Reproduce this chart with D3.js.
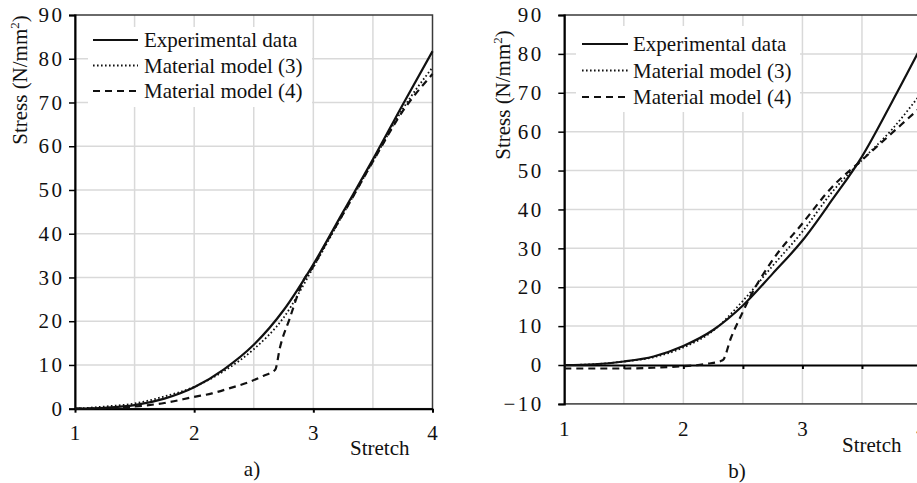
<!DOCTYPE html>
<html>
<head>
<meta charset="utf-8">
<script src="https://cdn.jsdelivr.net/npm/d3@7"></script>
<style>
  html, body { margin: 0; padding: 0; background: #fff; overflow: hidden; }
  svg { display: block; }
  svg text { font-family: "Liberation Serif", "Tinos", "DejaVu Serif", serif !important; }
</style>
</head>
<body>
<svg id="chart" width="917" height="483"></svg>
<script>
// ---------- Data ----------
// Panel a)
const stretchA  = [1, 1.25, 1.5, 1.75, 2, 2.25, 2.5, 2.75, 3, 3.25, 3.5, 3.75, 4];
const expA      = [0, 0.2, 0.8, 2.3, 4.9, 9.0, 14.6, 22.5, 33, 45, 57, 69.5, 81.7];
const model3A   = [0, 0.5, 1.2, 2.8, 5.0, 8.6, 13.6, 20.8, 32.3, 44.5, 56.5, 68.5, 78];
const stretch4A = [1, 1.25, 1.5, 1.75, 2, 2.15, 2.3, 2.45, 2.58, 2.68, 2.72, 2.8, 2.92, 3, 3.1, 3.25, 3.5, 3.75, 4];
const model4A   = [0, 0.1, 0.5, 1.3, 2.7, 3.5, 4.7, 6.0, 7.5, 8.9, 14, 20.5, 29.5, 32.5, 37.5, 44.5, 56.5, 68, 76.5];

// Panel b)
const stretchB  = [1, 1.25, 1.5, 1.75, 2, 2.25, 2.5, 2.75, 3, 3.25, 3.5, 3.75, 4];
const expB      = [0, 0.2, 0.9, 2.2, 4.9, 9.0, 15.3, 23.5, 32, 42.5, 53.6, 67.5, 82];
const model3B   = [0, 0.2, 0.9, 2.0, 4.5, 8.8, 16.5, 25.5, 34.3, 44.5, 52.7, 60.5, 70];
const stretch4B = [1, 1.5, 1.75, 2, 2.2, 2.33, 2.4, 2.48, 2.56, 2.75, 3, 3.25, 3.5, 3.75, 4];
const model4B   = [-0.9, -0.9, -0.7, -0.3, 0.3, 1.2, 7, 12.4, 17.5, 27, 36.4, 45.8, 52.7, 59.6, 66.5];

const xTicks    = [1, 2, 3, 4];
const xGrid     = [1.5, 2, 2.5, 3, 3.5];
const yTicksA   = [0, 10, 20, 30, 40, 50, 60, 70, 80, 90];
const yTicksB   = [-10, 0, 10, 20, 30, 40, 50, 60, 70, 80, 90];
const legendLabels = ["Experimental data", "Material model (3)", "Material model (4)"];
const panelLabels  = ["a)", "b)"];
const xTitle = "Stretch";

// ---------- Drawing ----------
const FONT = "Liberation Serif, Tinos, DejaVu Serif, serif";
const svg = d3.select("#chart");

function drawPanel(cfg) {
  const g = svg.append("g").attr("font-family", FONT);
  const x = d3.scaleLinear().domain([1, 4]).range([cfg.left, cfg.right]);
  const y = d3.scaleLinear().domain(cfg.yDomain).range([cfg.bottom, cfg.top]);

  // gridlines
  g.append("g").selectAll("line").data(xGrid).join("line")
    .attr("x1", d => x(d)).attr("x2", d => x(d))
    .attr("y1", cfg.top).attr("y2", cfg.bottom)
    .attr("stroke", "#d9d9d9").attr("stroke-width", 1.5);
  g.append("g").selectAll("line").data(cfg.yTicks.filter(d => d !== cfg.yDomain[0] && d !== cfg.yDomain[1] && d !== 0)).join("line")
    .attr("x1", cfg.left).attr("x2", cfg.right)
    .attr("y1", d => y(d)).attr("y2", d => y(d))
    .attr("stroke", "#d9d9d9").attr("stroke-width", 1.5);

  // plot border
  g.append("rect")
    .attr("x", cfg.left).attr("y", cfg.top)
    .attr("width", cfg.right - cfg.left).attr("height", cfg.bottom - cfg.top)
    .attr("fill", "none").attr("stroke", "#3a3a3a").attr("stroke-width", 1.5);

  // legend background
  g.append("rect")
    .attr("x", cfg.legend.bx).attr("y", cfg.legend.by)
    .attr("width", cfg.legend.bw).attr("height", cfg.legend.bh)
    .attr("fill", "#fff");

  // y axis
  const yAxis = d3.axisLeft(y).tickValues(cfg.yTicks).tickSize(6).tickPadding(cfg.yPad).tickFormat(d3.format("d"));
  const ya = g.append("g").attr("transform", `translate(${cfg.left},0)`).call(yAxis)
    .attr("font-family", FONT).attr("font-size", 21);
  ya.select(".domain").attr("stroke", "#000").attr("stroke-width", 2);
  ya.selectAll(".tick line").attr("stroke", "#000").attr("stroke-width", 1.5);
  ya.selectAll(".tick text").attr("fill", "#111").attr("letter-spacing", 2.5);

  // x axis (at y = 0)
  const xAxis = d3.axisBottom(x).tickValues(cfg.xTickMarks).tickSize(4).tickSizeOuter(0).tickFormat("");
  const xa = g.append("g").attr("transform", `translate(0,${y(0)})`).call(xAxis);
  xa.select(".domain").attr("stroke", "#000").attr("stroke-width", 2);
  xa.selectAll(".tick line").attr("stroke", "#000").attr("stroke-width", 2);

  // x tick labels
  g.append("g").selectAll("text").data(xTicks).join("text")
    .attr("x", d => x(d)).attr("y", cfg.xLabelY)
    .attr("text-anchor", "middle").attr("font-size", 21).attr("fill", "#111")
    .text(d => d);

  // axis titles
  g.append("text").attr("x", cfg.xTitleX).attr("y", cfg.xTitleY)
    .attr("font-size", 21).attr("fill", "#111").text(xTitle);
  const yt = g.append("text")
    .attr("transform", `translate(${cfg.yTitleX},${cfg.yTitleY}) rotate(-90)`)
    .attr("text-anchor", "middle").attr("font-size", 21).attr("fill", "#111");
  yt.append("tspan").text("Stress (N/mm");
  yt.append("tspan").attr("font-size", 13).attr("dy", -8).text("2");
  yt.append("tspan").attr("dy", 8).text(")");

  // panel label
  g.append("text").attr("x", cfg.panelX).attr("y", cfg.panelY)
    .attr("text-anchor", "middle").attr("font-size", 21).attr("fill", "#111").text(cfg.panel);

  // series
  const line = d3.line().x(d => x(d[0])).y(d => y(d[1])).curve(d3.curveMonotoneX);
  const clipId = "clip" + cfg.panel.replace(/\W/g, "");
  svg.append("clipPath").attr("id", clipId).append("rect")
    .attr("x", cfg.left).attr("y", cfg.top - 4).attr("width", cfg.right - cfg.left + 2).attr("height", cfg.bottom - cfg.top + 8);
  const series = [
    { xs: cfg.xs, ys: cfg.exp, dash: null, w: 2.2 },
    { xs: cfg.xs, ys: cfg.m3, dash: "1.6,2.4", w: 1.8 },
    { xs: cfg.x4, ys: cfg.m4, dash: "7,5", w: 2.2 }
  ];
  const sg = g.append("g").attr("clip-path", `url(#${clipId})`);
  series.forEach(s => {
    sg.append("path")
      .datum(s.xs.map((v, i) => [v, s.ys[i]]))
      .attr("d", line)
      .attr("fill", "none").attr("stroke", "#111")
      .attr("stroke-width", s.w)
      .attr("stroke-dasharray", s.dash);
  });

  // legend
  const L = cfg.legend;
  legendLabels.forEach((lab, i) => {
    const yy = L.y0 + i * L.dy;
    g.append("line").attr("x1", L.x1).attr("x2", L.x2).attr("y1", yy).attr("y2", yy)
      .attr("stroke", "#111").attr("stroke-width", series[i].w)
      .attr("stroke-dasharray", series[i].dash);
    g.append("text").attr("x", L.tx).attr("y", yy).attr("dy", "0.35em")
      .attr("font-size", 21).attr("fill", "#111").text(lab);
  });
}

drawPanel({
  panel: panelLabels[0],
  left: 75, right: 432.5, top: 15, bottom: 408.7,
  yDomain: [0, 90], yTicks: yTicksA, yPad: 4.5,
  xTickMarks: xTicks,
  xLabelY: 440, xTitleX: 350, xTitleY: 455, yTitleX: 27, yTitleY: 80,
  panelX: 252, panelY: 476,
  xs: stretchA, exp: expA, m3: model3A, x4: stretch4A, m4: model4A,
  legend: { bx: 88, by: 27, bw: 224, bh: 80, x1: 93, x2: 138, tx: 144, y0: 40, dy: 25.5 }
});

drawPanel({
  panel: panelLabels[1],
  left: 564.3, right: 921.5, top: 15, bottom: 403.9,
  yDomain: [-10, 90], yTicks: yTicksB, yPad: 14.5,
  xTickMarks: [1.5, 2, 2.5, 3, 3.5, 4],
  xLabelY: 436, xTitleX: 842, xTitleY: 452, yTitleX: 510, yTitleY: 95,
  panelX: 737, panelY: 478,
  xs: stretchB, exp: expB, m3: model3B, x4: stretch4B, m4: model4B,
  legend: { bx: 576, by: 26, bw: 224, bh: 86, x1: 582, x2: 628, tx: 633, y0: 44, dy: 26.5 }
});
</script>
</body>
</html>
